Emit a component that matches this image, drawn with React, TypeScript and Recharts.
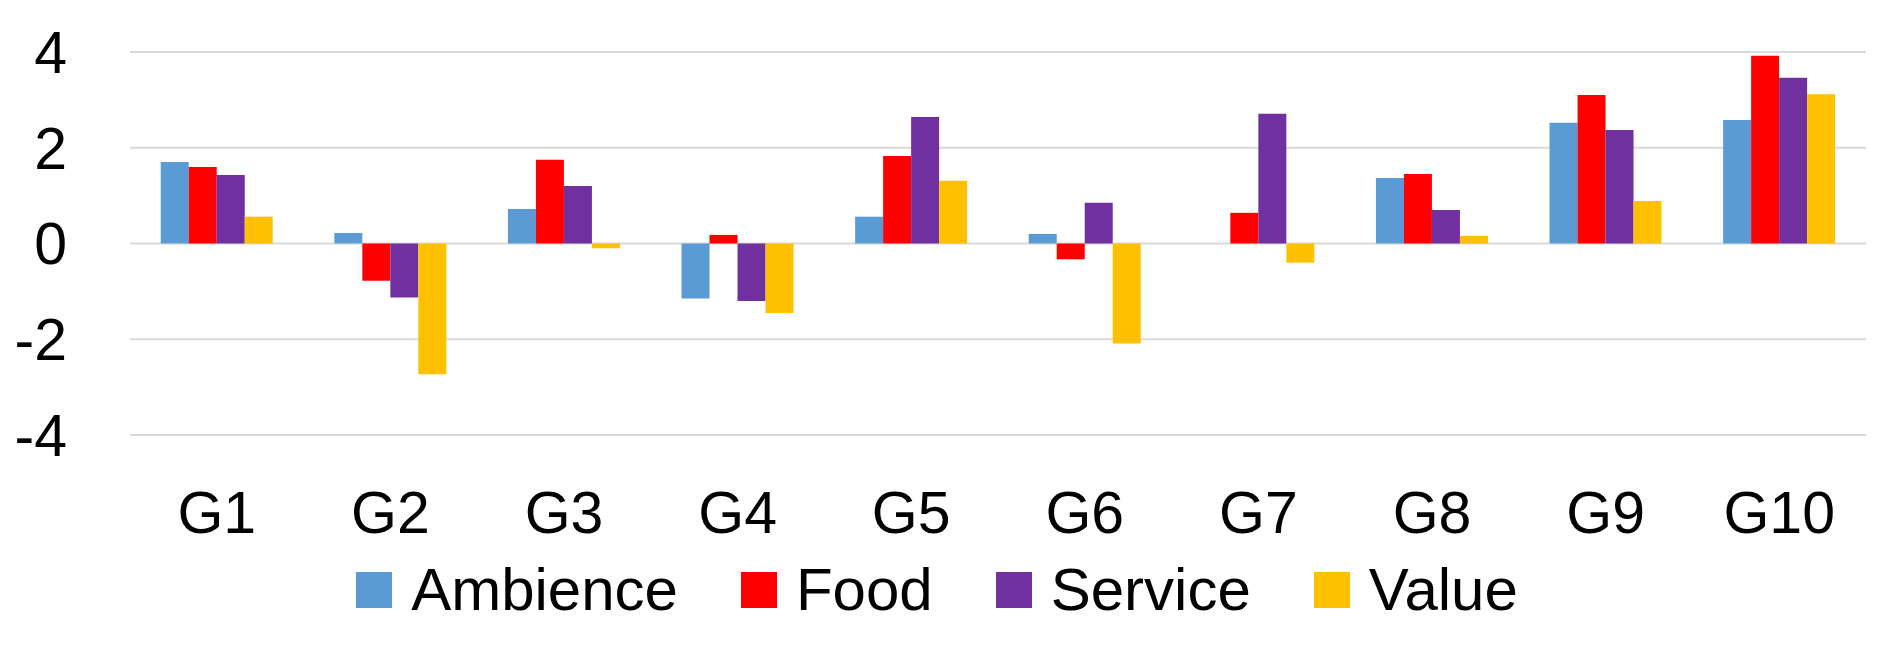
import React from 'react'
import { BarChart, Bar, XAxis, YAxis, CartesianGrid, Legend } from 'recharts'

const groups = ['G1', 'G2', 'G3', 'G4', 'G5', 'G6', 'G7', 'G8', 'G9', 'G10']
const ambience = [1.7, 0.22, 0.72, -1.15, 0.56, 0.2, 0, 1.37, 2.52, 2.58]
const food = [1.6, -0.78, 1.75, 0.18, 1.83, -0.33, 0.64, 1.45, 3.1, 3.92]
const service = [1.43, -1.13, 1.2, -1.2, 2.64, 0.85, 2.71, 0.7, 2.37, 3.46]
const value = [0.56, -2.73, -0.1, -1.45, 1.31, -2.09, -0.4, 0.16, 0.89, 3.12]
const yTicks = [-4, -2, 0, 2, 4]

const series = [
    { key: 'Ambience', color: '#5B9BD5' },
    { key: 'Food', color: '#FF0000' },
    { key: 'Service', color: '#7030A0' },
    { key: 'Value', color: '#FFC000' }
]

const data = groups.map((name, i) => ({
    name,
    Ambience: ambience[i],
    Food: food[i],
    Service: service[i],
    Value: value[i]
}))

const FONT = '"Liberation Sans", Arial, sans-serif'

// legend drawn like the office one: square swatch then label
function LegendRow() {
    return (
        <div style={{ display: 'flex', justifyContent: 'center', alignItems: 'center', height: 70, fontFamily: FONT, fontSize: 60, color: '#000' }}>
            {series.map((s, i) => (
                <div key={s.key} style={{ display: 'flex', alignItems: 'center', marginLeft: i === 0 ? 0 : 63 }}>
                    <span style={{ width: 36, height: 36, background: s.color, display: 'inline-block', marginRight: 19 }} />
                    <span style={{ lineHeight: 1 }}>{s.key}</span>
                </div>
            ))}
        </div>
    )
}

export default function App() {
    return (
        <div style={{ width: 1873, height: 633, background: '#fff' }}>
            <BarChart
                width={1873}
                height={633}
                data={data}
                margin={{ top: 44, right: 15, left: 0, bottom: 16 }}
                barCategoryGap="17.7%"
                barGap={0}
            >
                <CartesianGrid vertical={false} stroke="#d9d9d9" strokeWidth={2} />
                <XAxis
                    dataKey="name"
                    axisLine={false}
                    tickLine={false}
                    tickSize={0}
                    tickMargin={56}
                    height={120}
                    interval={0}
                    tick={{ fontFamily: FONT, fontSize: 59, fill: '#000' }}
                />
                <YAxis
                    domain={[-4, 4]}
                    ticks={yTicks}
                    width={122}
                    axisLine={false}
                    tickLine={false}
                    tickSize={0}
                    tickMargin={63}
                    tick={{ fontFamily: FONT, fontSize: 59, fill: '#000' }}
                />
                <Legend verticalAlign="bottom" height={70} content={() => <LegendRow />} />
                {series.map((s) => (
                    <Bar key={s.key} dataKey={s.key} fill={s.color} isAnimationActive={false} />
                ))}
            </BarChart>
        </div>
    )
}
